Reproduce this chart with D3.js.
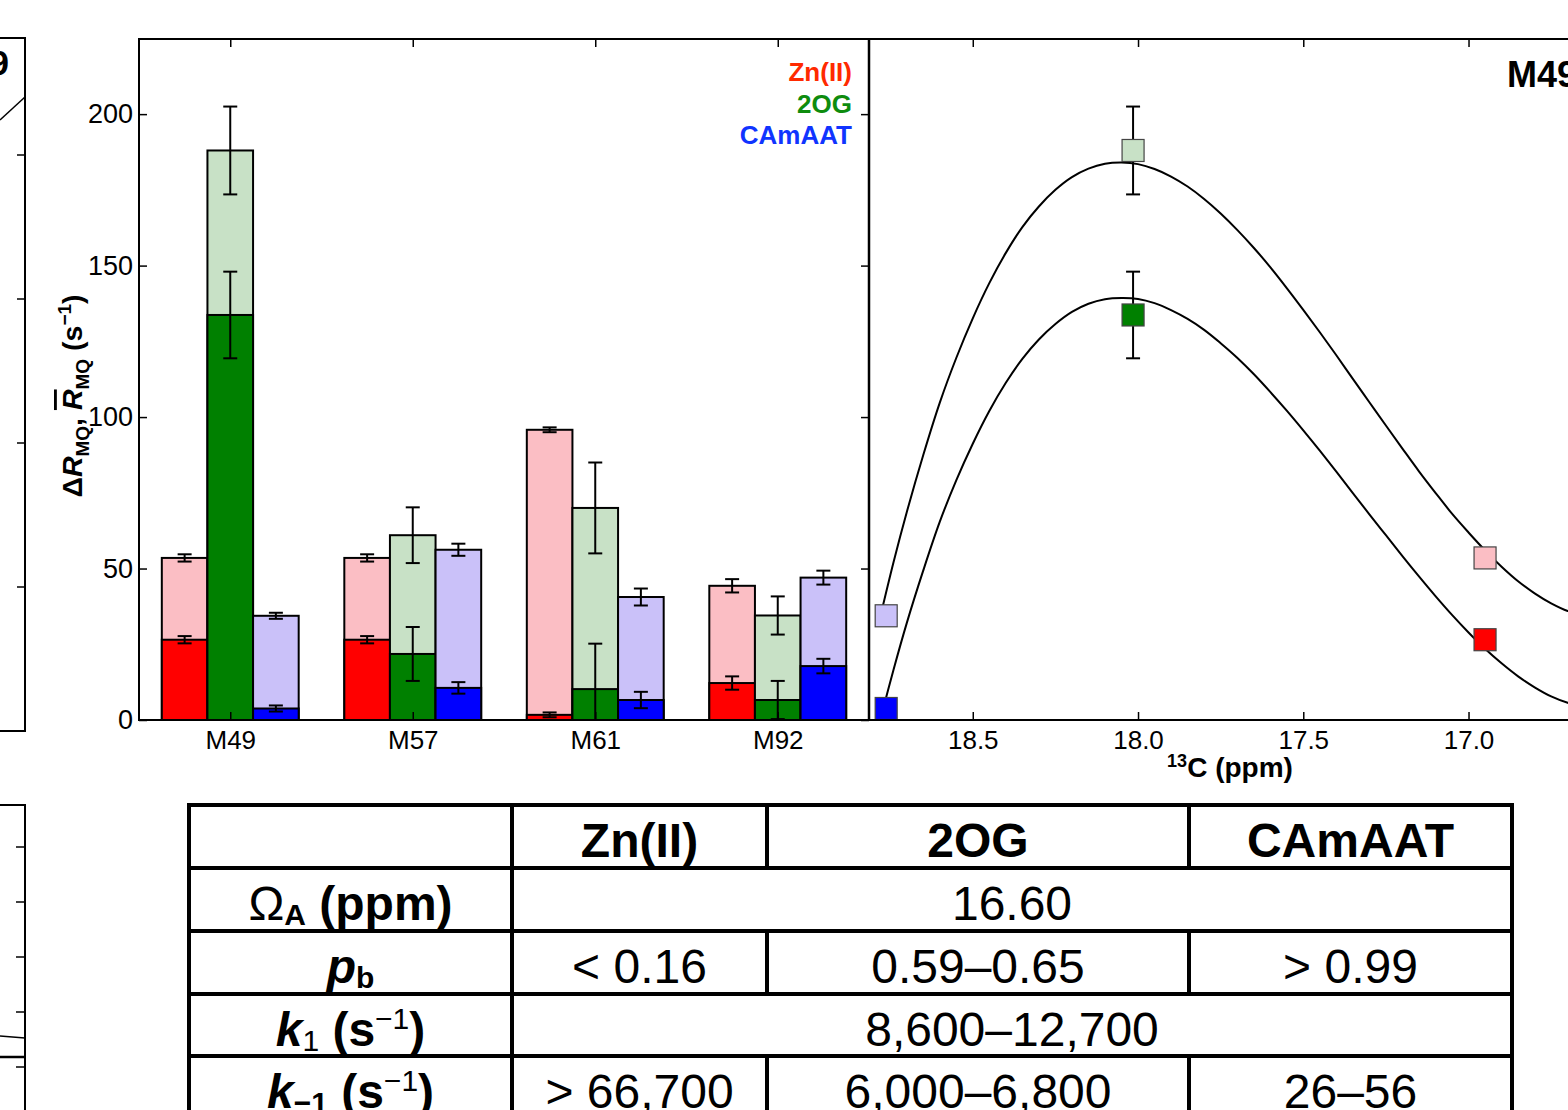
<!DOCTYPE html>
<html><head><meta charset="utf-8">
<script src="https://cdn.jsdelivr.net/npm/d3@7"></script>
<style>
html,body{margin:0;padding:0;background:#fff;}
svg{display:block;font-family:"Liberation Sans", Arial, Helvetica, sans-serif;}
</style></head><body>
<svg id="chart" width="1568" height="1110"></svg>
<script>
// ---------- data ----------
const residues = ["M49", "M57", "M61", "M92"];
const conditions = ["Zn(II)", "2OG", "CAmAAT"];

// averaged R_MQ (light bars) per residue
const rbarZn  = [53.5, 53.5, 95.8, 44.3];
const rbar2OG = [188.0, 61.0, 70.0, 34.5];
const rbarCAm = [34.4, 56.2, 40.6, 47.0];
const rbarErrZn  = [1.2, 1.2, 0.8, 2.2];
const rbarErr2OG = [14.5, 9.2, 15.0, 6.3];
const rbarErrCAm = [1.0, 2.0, 2.8, 2.3];
// Delta R_MQ (dark bars)
const dRZn  = [26.5, 26.5, 1.7, 12.2];
const dR2OG = [133.7, 21.8, 10.2, 6.6];
const dRCAm = [3.8, 10.6, 6.6, 17.8];
const dRErrZn  = [1.2, 1.2, 0.8, 2.2];
const dRErr2OG = [14.3, 8.9, 15.0, 6.3];
const dRErrCAm = [1.0, 1.9, 2.7, 2.4];

const yTicks = [0, 50, 100, 150, 200];
const ppmTicks = [18.5, 18.0, 17.5, 17.0];

// M49 13C shifts under each condition (right panel)
const shiftM49 = [16.95, 18.015, 18.762];

// model curves
const curvePpm = [18.78,18.74,18.70,18.65,18.60,18.55,18.50,18.45,18.40,18.35,18.30,18.25,18.20,18.15,18.10,18.05,18.00,17.95,17.90,17.85,17.80,17.75,17.70,17.65,17.60,17.55,17.50,17.45,17.40,17.35,17.30,17.25,17.20,17.15,17.10,17.05,17.00,16.95,16.90,16.85,16.80,16.75,16.70,16.65];
const curveUpper = [34,52,68.5,87.4,104.7,119.5,132.6,144.2,154.2,162.7,169.5,175,179.2,182,183.6,184,183.5,181.9,179.4,176.1,172,167.2,161.8,155.9,149.5,142.6,135.4,128,120.4,112.6,104.9,97.2,89.6,82.1,75,68.1,61.9,56,50.6,45.8,41.8,38.5,36,34.8];
const curveLower = [0,16.5,31.9,49.3,65.4,79.1,91.2,102,111.3,119.2,125.6,130.7,134.7,137.4,138.9,139.3,139,137.6,135.3,132.4,128.8,124.4,119.6,114.2,108.3,102.1,95.6,88.9,82,74.9,67.9,61,54.1,47.4,40.9,34.7,28.9,23.5,18.7,14.4,10.8,7.8,5.7,4.4];

// table
const tableHeader = ["Zn(II)", "2OG", "CAmAAT"];
const omegaA = "16.60";
const pbValues = ["< 0.16", "0.59\u20130.65", "> 0.99"];
const k1Value = "8,600\u201312,700";
const km1Values = ["> 66,700", "6,000\u20136,800", "26\u201356"];

// ---------- styles ----------
const darkCol  = ["#ff0000", "#008000", "#0000ff"];
const lightCol = ["#fbbec4", "#c8e1c6", "#cac1f9"];
const legendCol = ["#ff2a00", "#0e8c0e", "#1034ff"];

const rbar = [rbarZn, rbar2OG, rbarCAm];
const rbarErr = [rbarErrZn, rbarErr2OG, rbarErrCAm];
const dR = [dRZn, dR2OG, dRCAm];
const dRErr = [dRErrZn, dRErr2OG, dRErrCAm];

const svg = d3.select("#chart");
svg.append("rect").attr("width", 1568).attr("height", 1110).attr("fill", "#fff");

const TOP = 39, BOT = 720, LEFT = 139, MID = 869;
const y = d3.scaleLinear().domain([0, 224.8]).range([BOT, TOP]);
const xb = d3.scaleLinear().domain([-0.5, 3.5]).range([LEFT, MID]);
const xp = d3.scaleLinear().domain([18.814, 16.5]).range([MID, MID + 2.314 * 330.5]);
const bw = 0.25;

// ---------- partial panels at left edge ----------
const lp = svg.append("g");
lp.append("rect").attr("x", -10).attr("y", 38).attr("width", 35).attr("height", 693)
  .attr("fill", "none").attr("stroke", "#000").attr("stroke-width", 2);
[155, 299, 443, 587].forEach(t => lp.append("line").attr("x1", 17).attr("x2", 25).attr("y1", t).attr("y2", t).attr("stroke", "#000").attr("stroke-width", 1.5));
lp.append("text").attr("x", 9).attr("y", 75).attr("text-anchor", "end").attr("font-size", 35).attr("font-weight", "bold").text("M49");
lp.append("line").attr("x1", 0).attr("y1", 120).attr("x2", 25).attr("y2", 97).attr("stroke", "#000").attr("stroke-width", 1.5);

lp.append("rect").attr("x", -10).attr("y", 805).attr("width", 35).attr("height", 400)
  .attr("fill", "none").attr("stroke", "#000").attr("stroke-width", 2);
[847, 902, 957, 1012, 1067].forEach(t => lp.append("line").attr("x1", 16).attr("x2", 25).attr("y1", t).attr("y2", t).attr("stroke", "#000").attr("stroke-width", 1.5));
lp.append("line").attr("x1", 0).attr("y1", 1036).attr("x2", 25).attr("y2", 1038).attr("stroke", "#000").attr("stroke-width", 1.5);
lp.append("line").attr("x1", 0).attr("y1", 1057).attr("x2", 25).attr("y2", 1057).attr("stroke", "#000").attr("stroke-width", 2.5);

// ---------- bar panel ----------
const bp = svg.append("g");
conditions.forEach((c, j) => {
  residues.forEach((r, i) => {
    const x0 = xb(i - 0.375 + j * bw), w = xb(bw) - xb(0);
    bp.append("rect").attr("x", x0).attr("y", y(rbar[j][i])).attr("width", w)
      .attr("height", y(0) - y(rbar[j][i])).attr("fill", lightCol[j]).attr("stroke", "#000").attr("stroke-width", 2);
    bp.append("rect").attr("x", x0).attr("y", y(dR[j][i])).attr("width", w)
      .attr("height", y(0) - y(dR[j][i])).attr("fill", darkCol[j]).attr("stroke", "#000").attr("stroke-width", 2);
  });
});
function errBar(g, cx, v, e) {
  const lo = Math.max(0, v - e), hi = v + e;
  g.append("line").attr("x1", cx).attr("x2", cx).attr("y1", y(lo)).attr("y2", y(hi)).attr("stroke", "#000").attr("stroke-width", 2);
  [lo, hi].forEach(q => g.append("line").attr("x1", cx - 7).attr("x2", cx + 7).attr("y1", y(q)).attr("y2", y(q)).attr("stroke", "#000").attr("stroke-width", 2));
}
conditions.forEach((c, j) => {
  residues.forEach((r, i) => {
    const cx = xb(i + (j - 1) * bw);
    errBar(bp, cx, rbar[j][i], rbarErr[j][i]);
    errBar(bp, cx, dR[j][i], dRErr[j][i]);
  });
});

// axes of bar panel
const fs = 26;
const axL = bp.append("g").attr("transform", `translate(${LEFT},0)`)
  .call(d3.axisLeft(y).tickValues(yTicks).tickSizeInner(-8).tickSizeOuter(0).tickPadding(6));
const axB = bp.append("g").attr("transform", `translate(0,${BOT})`)
  .call(d3.axisBottom(xb).tickValues([0, 1, 2, 3]).tickFormat(i => residues[i]).tickSizeInner(-8).tickSizeOuter(0).tickPadding(11));
const axT = bp.append("g").attr("transform", `translate(0,${TOP})`)
  .call(d3.axisTop(xb).tickValues([0, 1, 2, 3]).tickFormat("").tickSizeInner(-8).tickSizeOuter(0));
const axR = bp.append("g").attr("transform", `translate(${MID},0)`)
  .call(d3.axisRight(y).tickValues(yTicks).tickFormat("").tickSizeInner(-8).tickSizeOuter(0));
[axL, axB, axT, axR].forEach(a => {
  a.select(".domain").remove();
  a.selectAll("line").attr("stroke", "#000").attr("stroke-width", 1.5);
  a.selectAll("text").attr("font-size", fs).attr("font-family", "Liberation Sans").attr("fill", "#000");
});
axL.selectAll("text").attr("font-size", 27);

// y label
const yl = svg.append("text").attr("transform", "translate(82,396) rotate(-90)")
  .attr("text-anchor", "middle").attr("font-size", 28.5).attr("font-weight", "bold");
yl.append("tspan").text("\u0394");
yl.append("tspan").attr("font-style", "italic").text("R");
yl.append("tspan").attr("font-size", 19).attr("dy", 7).text("MQ");
yl.append("tspan").attr("dy", -7).text(", ");
yl.append("tspan").attr("font-style", "italic").style("text-decoration", "overline").text("R");
yl.append("tspan").attr("font-size", 19).attr("dy", 7).text("MQ");
yl.append("tspan").attr("dy", -7).text(" (s");
yl.append("tspan").attr("font-size", 19).attr("dy", -11).text("\u22121");
yl.append("tspan").attr("dy", 11).text(")");

// legend
const legY = [81, 113, 144];
conditions.forEach((c, j) => {
  svg.append("text").attr("x", 852).attr("y", legY[j]).attr("text-anchor", "end")
    .attr("font-size", 26).attr("font-weight", "bold").attr("fill", legendCol[j]).text(c);
});

// ---------- right panel ----------
svg.append("clipPath").attr("id", "rp").append("rect").attr("x", MID).attr("y", TOP - 2).attr("width", 800).attr("height", BOT - TOP + 4);
const rp = svg.append("g").attr("clip-path", "url(#rp)");
const line = d3.line().x(d => xp(d[0])).y(d => y(d[1])).curve(d3.curveCatmullRom.alpha(0.5));
[curveUpper, curveLower].forEach(cv => {
  rp.append("path").datum(curvePpm.map((p, k) => [p, cv[k]])).attr("d", line)
    .attr("fill", "none").attr("stroke", "#000").attr("stroke-width", 2);
});
conditions.forEach((c, j) => {
  errBar(rp, xp(shiftM49[j]), rbar[j][0], rbarErr[j][0]);
  errBar(rp, xp(shiftM49[j]), dR[j][0], dRErr[j][0]);
});
const sq = 22;
conditions.forEach((c, j) => {
  [[rbar[j][0], lightCol[j]], [dR[j][0], darkCol[j]]].forEach(([v, col]) => {
    rp.append("rect").attr("x", xp(shiftM49[j]) - sq / 2).attr("y", y(v) - sq / 2)
      .attr("width", sq).attr("height", sq).attr("fill", col).attr("stroke", "#444").attr("stroke-width", 1.2);
  });
});
const axPB = svg.append("g").attr("transform", `translate(0,${BOT})`)
  .call(d3.axisBottom(xp).tickValues(ppmTicks).tickFormat(d3.format(".1f")).tickSizeInner(-8).tickSizeOuter(0).tickPadding(11));
const axPT = svg.append("g").attr("transform", `translate(0,${TOP})`)
  .call(d3.axisTop(xp).tickValues(ppmTicks).tickFormat("").tickSizeInner(-8).tickSizeOuter(0));
[axPB, axPT].forEach(a => {
  a.select(".domain").remove();
  a.selectAll("line").attr("stroke", "#000").attr("stroke-width", 1.5);
  a.selectAll("text").attr("font-size", fs).attr("font-family", "Liberation Sans").attr("fill", "#000");
});
const xl = svg.append("text").attr("x", 1230).attr("y", 777).attr("text-anchor", "middle")
  .attr("font-size", 28).attr("font-weight", "bold");
xl.append("tspan").attr("font-size", 18).attr("dy", -10).text("13");
xl.append("tspan").attr("dy", 10).text("C (ppm)");
svg.append("text").attr("x", 1507).attr("y", 87).attr("font-size", 36).attr("font-weight", "bold").text("M49");

// frames
svg.append("rect").attr("x", LEFT).attr("y", TOP).attr("width", 1568 - LEFT + 10).attr("height", BOT - TOP)
  .attr("fill", "none").attr("stroke", "#000").attr("stroke-width", 2);
svg.append("line").attr("x1", MID).attr("x2", MID).attr("y1", TOP).attr("y2", BOT).attr("stroke", "#000").attr("stroke-width", 2.5);

// ---------- table ----------
const colX = [189, 512, 767, 1189, 1512];
const rowY = [805, 868, 931, 994, 1056, 1119];
const tb = svg.append("g");
const TS = 48;
function cellText(x, rowIdx, parts) {
  const t = tb.append("text").attr("x", x).attr("y", rowY[rowIdx] + 51.5).attr("text-anchor", "middle")
    .attr("font-size", TS);
  parts.forEach(p => {
    const s = t.append("tspan").text(p.t);
    if (p.b) s.attr("font-weight", "bold");
    if (p.i) s.attr("font-style", "italic");
    if (p.s) s.attr("font-size", p.s);
    if (p.dy) s.attr("dy", p.dy);
  });
  return t;
}
const colMid = k => (colX[k] + colX[k + 1]) / 2;
tableHeader.forEach((h, k) => cellText(colMid(k + 1), 0, [{ t: h, b: 1 }]));
cellText(colMid(0), 1, [{ t: "\u03A9" }, { t: "A", b: 1, s: 30, dy: 5 }, { t: " (ppm)", b: 1, dy: -5 }]);
cellText((colX[1] + colX[4]) / 2, 1, [{ t: omegaA }]);
cellText(colMid(0), 2, [{ t: "p", b: 1, i: 1 }, { t: "b", b: 1, s: 30, dy: 5 }]);
pbValues.forEach((v, k) => cellText(colMid(k + 1), 2, [{ t: v }]));
cellText(colMid(0), 3, [{ t: "k", b: 1, i: 1 }, { t: "1", s: 30, dy: 5 }, { t: " (s", b: 1, dy: -5 }, { t: "\u22121", s: 30, dy: -17 }, { t: ")", b: 1, dy: 17 }]);
cellText((colX[1] + colX[4]) / 2, 3, [{ t: k1Value }]);
cellText(colMid(0), 4, [{ t: "k", b: 1, i: 1 }, { t: "\u22121", b: 1, s: 30, dy: 5 }, { t: " (s", b: 1, dy: -5 }, { t: "\u22121", s: 30, dy: -17 }, { t: ")", b: 1, dy: 17 }]);
km1Values.forEach((v, k) => cellText(colMid(k + 1), 4, [{ t: v }]));

const lw = 4;
rowY.forEach(ry => tb.append("line").attr("x1", colX[0] - lw / 2).attr("x2", colX[4] + lw / 2).attr("y1", ry).attr("y2", ry).attr("stroke", "#000").attr("stroke-width", lw));
[colX[0], colX[1], colX[4]].forEach(cx => tb.append("line").attr("x1", cx).attr("x2", cx).attr("y1", rowY[0]).attr("y2", rowY[5]).attr("stroke", "#000").attr("stroke-width", lw));
[colX[2], colX[3]].forEach(cx => [0, 2, 4].forEach(r => tb.append("line").attr("x1", cx).attr("x2", cx).attr("y1", rowY[r]).attr("y2", rowY[r + 1]).attr("stroke", "#000").attr("stroke-width", lw)));
</script>
</body></html>
